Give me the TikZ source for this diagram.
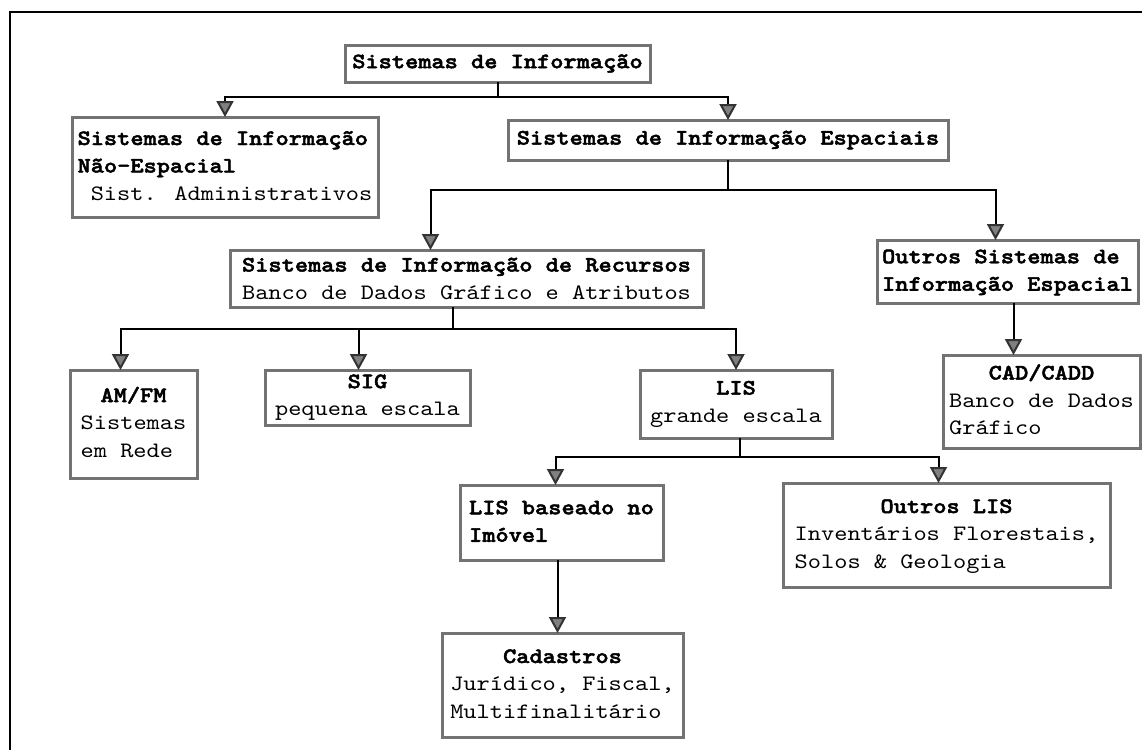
\documentclass[tikz,border=0pt]{standalone}
\usepackage{fontspec}
% typewriter face widened to Courier proportions, with a heavier bold
\setmainfont{lmmono10-regular.otf}[BoldFont=lmmonolt10-bold.otf,
  BoldFeatures={FakeBold=2.2}, FakeStretch=1.143]
\usetikzlibrary{arrows.meta,calc}
\begin{document}
\begin{tikzpicture}[x=1pt,y=-1pt,
  box/.style={draw=black!55, line width=3pt, anchor=north west, inner sep=0pt,
    outer sep=0pt, align=center, font=\fontsize{22pt}{27.5pt}\selectfont},
  link/.style={draw=black, line width=2pt},
  arr/.style={link, -{Triangle[width=17pt,length=16pt,color=black!80,fill=black!50]}},
]
\useasboundingbox (0,0) rectangle (1142,750);

% page frame (top and left rule)
\draw[line width=2pt] (1142,12) -- (10,12) -- (10,750);

% boxes
\node[box, minimum width=305pt, minimum height=37pt] (top) at (345,45)
  {\bfseries Sistemas de Informação};
\node[box, minimum width=306pt, minimum height=100pt] (nao) at (72,117)
  {\begin{tabular}{@{}l@{}}\bfseries Sistemas de Informação\\ \bfseries Não-Espacial\\ \ Sist. Administrativos\end{tabular}};
\node[box, minimum width=440pt, minimum height=40pt] (esp) at (508,120)
  {\bfseries Sistemas de Informação Espaciais};
\node[box, minimum width=473pt, minimum height=57pt] (rec) at (230,250)
  {\bfseries Sistemas de Informação de Recursos\\ Banco de Dados Gráfico e Atributos};
\node[box, minimum width=261pt, minimum height=63pt] (out) at (877,240)
  {\begin{tabular}{@{}l@{}}\bfseries Outros Sistemas de\\ \bfseries Informação Espacial\end{tabular}};
\node[box, minimum width=127pt, minimum height=108pt] (am) at (70,370)
  {\begin{tabular}{@{}l@{}}\multicolumn{1}{@{}c@{}}{\bfseries AM/FM}\\ Sistemas\\ em Rede\end{tabular}};
\node[box, minimum width=205pt, minimum height=55pt] (sig) at (265,370)
  {\bfseries SIG\\ pequena escala};
\node[box, minimum width=192pt, minimum height=68pt] (lis) at (640,370)
  {\bfseries LIS\\ grande escala};
\node[box, minimum width=197pt, minimum height=93pt] (cad) at (943,355)
  {\begin{tabular}{@{}l@{}}\multicolumn{1}{@{}c@{}}{\bfseries CAD/CADD}\\ Banco de Dados\\ Gráfico\end{tabular}};
\node[box, minimum width=203pt, minimum height=75pt] (lisb) at (460,485)
  {\begin{tabular}{@{}l@{}}\bfseries LIS baseado no\\ \bfseries Imóvel\end{tabular}};
\node[box, minimum width=327pt, minimum height=104pt] (olis) at (783,483)
  {\begin{tabular}{@{}l@{}}\multicolumn{1}{@{}c@{}}{\bfseries Outros LIS}\\ Inventários Florestais,\\ Solos \& Geologia\end{tabular}};
\node[box, minimum width=241pt, minimum height=104pt] (cada) at (442,633)
  {\begin{tabular}{@{}l@{}}\multicolumn{1}{@{}c@{}}{\bfseries Cadastros}\\ Jurídico, Fiscal,\\ Multifinalitário\end{tabular}};

% connectors
\coordinate (b1) at ($(top.south)+(0,15)$);
\draw[link] (top.south) -- (b1);
\draw[arr] (b1) -| (nao.north);
\draw[arr] (b1) -| (esp.north);

\coordinate (b2) at ($(esp.south)+(0,30)$);
\draw[link] (esp.south) -- (b2);
\draw[arr] (b2) -| ([xshift=-36pt]rec.north);
\draw[arr] (b2) -| ([xshift=-12pt]out.north);

\draw[arr] ([xshift=6pt]out.south) -- ([xshift=6pt]out.south |- cad.north);

\coordinate (b3) at ($([xshift=-14pt]rec.south)+(0,22)$);
\draw[link] ([xshift=-14pt]rec.south) -- (b3);
\draw[arr] (b3) -| ([xshift=-13pt]am.north);
\draw[arr] (b3) -| ([xshift=-9pt]sig.north);
\draw[arr] (b3) -| (lis.north);

\coordinate (b4) at ($([xshift=4pt]lis.south)+(0,19)$);
\draw[link] ([xshift=4pt]lis.south) -- (b4);
\draw[arr] (b4) -| ([xshift=-6pt]lisb.north);
\draw[arr] (b4) -| ([xshift=-8pt]olis.north);

\draw[arr] ([xshift=-4pt]lisb.south) -- ([xshift=-4pt]lisb.south |- cada.north);
\end{tikzpicture}
\end{document}
